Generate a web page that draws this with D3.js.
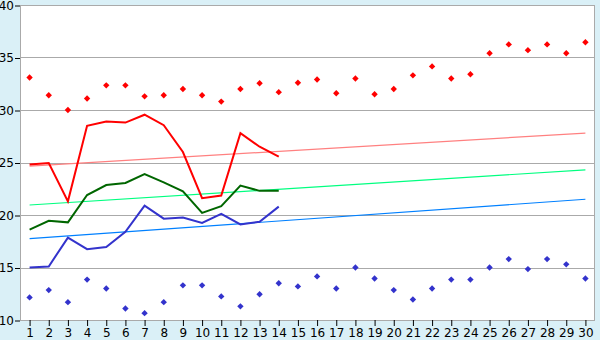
<!DOCTYPE html>
<html>
<head>
<meta charset="utf-8">
<script src="https://cdn.jsdelivr.net/npm/d3@7"></script>
<style>
  body { margin: 0; background: #daf0f7; }
  svg { display: block; }
  .tick text { font-family: "DejaVu Sans", Verdana, sans-serif; font-size: 12px; fill: #000; }
</style>
</head>
<body>
<script>
var w = 600, h = 340;
var margin = { top: 5, right: 5, bottom: 20, left: 20 };

var days = d3.range(1, 31).map(String);
var yTicks = [10, 15, 20, 25, 30, 35, 40];

// daily max / min scatter
var maxPoints = [33.1, 31.4, 30.0, 31.1, 32.35, 32.35, 31.3, 31.4, 32.0, 31.4,
                 30.8, 32.0, 32.55, 31.7, 32.6, 32.9, 31.6, 33.0, 31.5, 32.0,
                 33.3, 34.15, 33.0, 33.4, 35.4, 36.25, 35.7, 36.25, 35.4, 36.45];
var minPoints = [12.15, 12.85, 11.7, 13.85, 13.0, 11.1, 10.65, 11.7, 13.3, 13.3,
                 12.25, 11.3, 12.45, 13.5, 13.2, 14.15, 13.0, 15.0, 13.95, 12.85,
                 11.95, 13.0, 13.85, 13.85, 15.0, 15.8, 14.85, 15.8, 15.3, 13.95];

// this month's lines (first 14 days)
var maxLine = [24.8, 24.95, 21.3, 28.5, 28.9, 28.8, 29.55, 28.55, 26.0, 21.6, 21.85, 27.8, 26.5, 25.55];
var avgLine = [18.6, 19.45, 19.3, 21.9, 22.85, 23.05, 23.9, 23.1, 22.25, 20.2, 20.85, 22.8, 22.3, 22.3];
var minLine = [15.0, 15.1, 17.85, 16.75, 16.95, 18.4, 20.9, 19.65, 19.75, 19.25, 20.1, 19.1, 19.35, 20.8];

// normals: value on day 1 and day 30
var maxNormal = [24.65, 27.8];
var avgNormal = [20.95, 24.3];
var minNormal = [17.75, 21.5];

var svg = d3.select("body").append("svg")
  .attr("width", w)
  .attr("height", h);

var x = d3.scalePoint()
  .domain(days)
  .range([margin.left, w - margin.right])
  .padding(0.5);

var y = d3.scaleLinear()
  .domain([10, 40])
  .range([h - margin.bottom, margin.top]);

//// plot area
svg.append("rect")
  .attr("x", margin.left + 0.5)
  .attr("y", margin.top + 0.5)
  .attr("width", w - margin.left - margin.right - 1)
  .attr("height", h - margin.top - margin.bottom)
  .attr("fill", "#fff")
  .attr("stroke", "#aaaaaa");

//// grid
svg.selectAll("line.grid")
  .data(yTicks)
  .enter()
  .append("line")
  .attr("class", "grid")
  .attr("x1", margin.left)
  .attr("x2", w - margin.right)
  .attr("y1", function(d) { return Math.round(y(d)) + 0.5; })
  .attr("y2", function(d) { return Math.round(y(d)) + 0.5; })
  .attr("stroke", "#aaaaaa");

//// axes
var yAxis = svg.append("g")
  .attr("transform", "translate(" + margin.left + ",0.5)")
  .call(d3.axisLeft(y).tickValues(yTicks).tickSize(5).tickPadding(1));
yAxis.select(".domain").remove();
yAxis.selectAll(".tick line").attr("stroke", "#000");

var xAxis = svg.append("g")
  .attr("transform", "translate(0," + (h - margin.bottom) + ")")
  .call(d3.axisBottom(x).tickSize(6).tickPadding(2));
xAxis.select(".domain").remove();
xAxis.selectAll(".tick line").attr("stroke", "#000");

//// normals
var normals = [
  { v: maxNormal, c: "#ff8080" },
  { v: avgNormal, c: "#00ff80" },
  { v: minNormal, c: "#0080ff" }
];
svg.selectAll("line.normal")
  .data(normals)
  .enter()
  .append("line")
  .attr("x1", x(days[0]))
  .attr("x2", x(days[days.length - 1]))
  .attr("y1", function(d) { return y(d.v[0]); })
  .attr("y2", function(d) { return y(d.v[1]); })
  .attr("stroke", function(d) { return d.c; })
  .attr("stroke-width", 1.2);

//// lines
var line = d3.line()
  .x(function(d, i) { return x(days[i]); })
  .y(function(d) { return y(d); });

var series = [
  { v: maxLine, c: "#ff0000" },
  { v: avgLine, c: "#006600" },
  { v: minLine, c: "#3333cc" }
];
svg.selectAll("path.series")
  .data(series)
  .enter()
  .append("path")
  .attr("d", function(d) { return line(d.v); })
  .attr("fill", "none")
  .attr("stroke", function(d) { return d.c; })
  .attr("stroke-width", 2);

//// scatter markers
var marker = d3.symbol().type(d3.symbolDiamond2).size(26);
function drawPoints(data, color) {
  svg.append("g").selectAll("path")
    .data(data)
    .enter()
    .append("path")
    .attr("transform", function(d, i) { return "translate(" + x(days[i]) + "," + y(d) + ")"; })
    .attr("d", marker)
    .attr("fill", color);
}
drawPoints(maxPoints, "#ff0000");
drawPoints(minPoints, "#3333cc");
</script>
</body>
</html>
